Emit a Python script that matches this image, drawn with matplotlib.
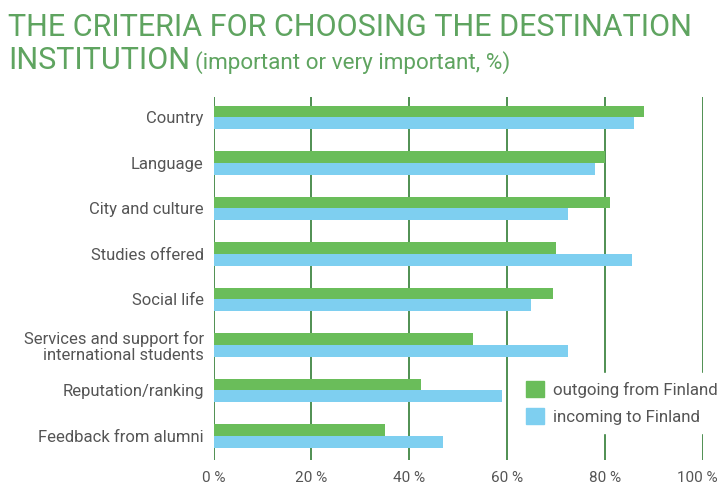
import matplotlib
matplotlib.use("Agg")
import matplotlib.pyplot as plt
import numpy as np
from matplotlib.patches import Patch

categories = [
    "Country",
    "Language",
    "City and culture",
    "Studies offered",
    "Social life",
    "Services and support for\ninternational students",
    "Reputation/ranking",
    "Feedback from alumni",
]
outgoing = [88, 80, 81, 70, 69.5, 53, 42.5, 35]
incoming = [86, 78, 72.5, 85.5, 65, 72.5, 59, 47]
xticks = [0, 20, 40, 60, 80, 100]
xtick_labels = ["0 %", "20 %", "40 %", "60 %", "80 %", "100 %"]

GREEN = "#6abd5a"
BLUE = "#7ecff0"
GRID = "#4f8f52"
TITLE = "#5fa460"
TEXT = "#555555"

plt.rcParams["font.family"] = ["Roboto", "DejaVu Sans"]

fig = plt.figure(figsize=(7.23, 4.97), dpi=100)
ax = fig.add_axes([0.2953, 0.0744, 0.9719 - 0.2953, 0.8048 - 0.0744])

y = np.arange(len(categories))
h = 0.26
ax.barh(y - h / 2, outgoing, height=h, color=GREEN, zorder=3)
ax.barh(y + h / 2, incoming, height=h, color=BLUE, zorder=3)

for xv in xticks:
    ax.axvline(xv, color=GRID, lw=1.4, zorder=1)

ax.set_xlim(0, 100)
ax.set_ylim(7.53, -0.45)
ax.set_yticks(y)
ax.set_yticklabels(categories, fontsize=12, color=TEXT, linespacing=1.1)
ax.set_xticks(xticks[:-1])
ax.set_xticklabels(xtick_labels[:-1], fontsize=11, color=TEXT)
ax.tick_params(length=0)
ax.tick_params(axis="y", pad=7)
ax.tick_params(axis="x", pad=8)
for s in ax.spines.values():
    s.set_visible(False)
# last label nudged left so it stays inside the figure
ax.text(xticks[-1] - 1.2, -0.0306, xtick_labels[-1], transform=ax.get_xaxis_transform(),
        ha="center", va="top", fontsize=11, color=TEXT)

handles = [Patch(color=GREEN, label="outgoing from Finland"),
           Patch(color=BLUE, label="incoming to Finland")]
leg = ax.legend(handles=handles, loc="lower right", bbox_to_anchor=(1.066, 0.05),
                frameon=True, fancybox=False, framealpha=1, edgecolor="white",
                fontsize=12.2, handlelength=1.05, handleheight=1.05,
                handletextpad=0.55, labelcolor=TEXT, borderpad=0.5,
                labelspacing=0.6)
leg.set_zorder(5)

fig.text(0.011, 0.928, "THE CRITERIA FOR CHOOSING THE DESTINATION",
         fontsize=22, color=TITLE, va="baseline")
t2 = fig.text(0.011, 0.862, "INSTITUTION", fontsize=22, color=TITLE, va="baseline")
fig.canvas.draw()
bb = t2.get_window_extent()
fig.text((bb.x1 + 5) / fig.bbox.width, 0.862, "(important or very important, %)",
         fontsize=16.2, color=TITLE, va="baseline")

fig.savefig("out.png", dpi=100)
